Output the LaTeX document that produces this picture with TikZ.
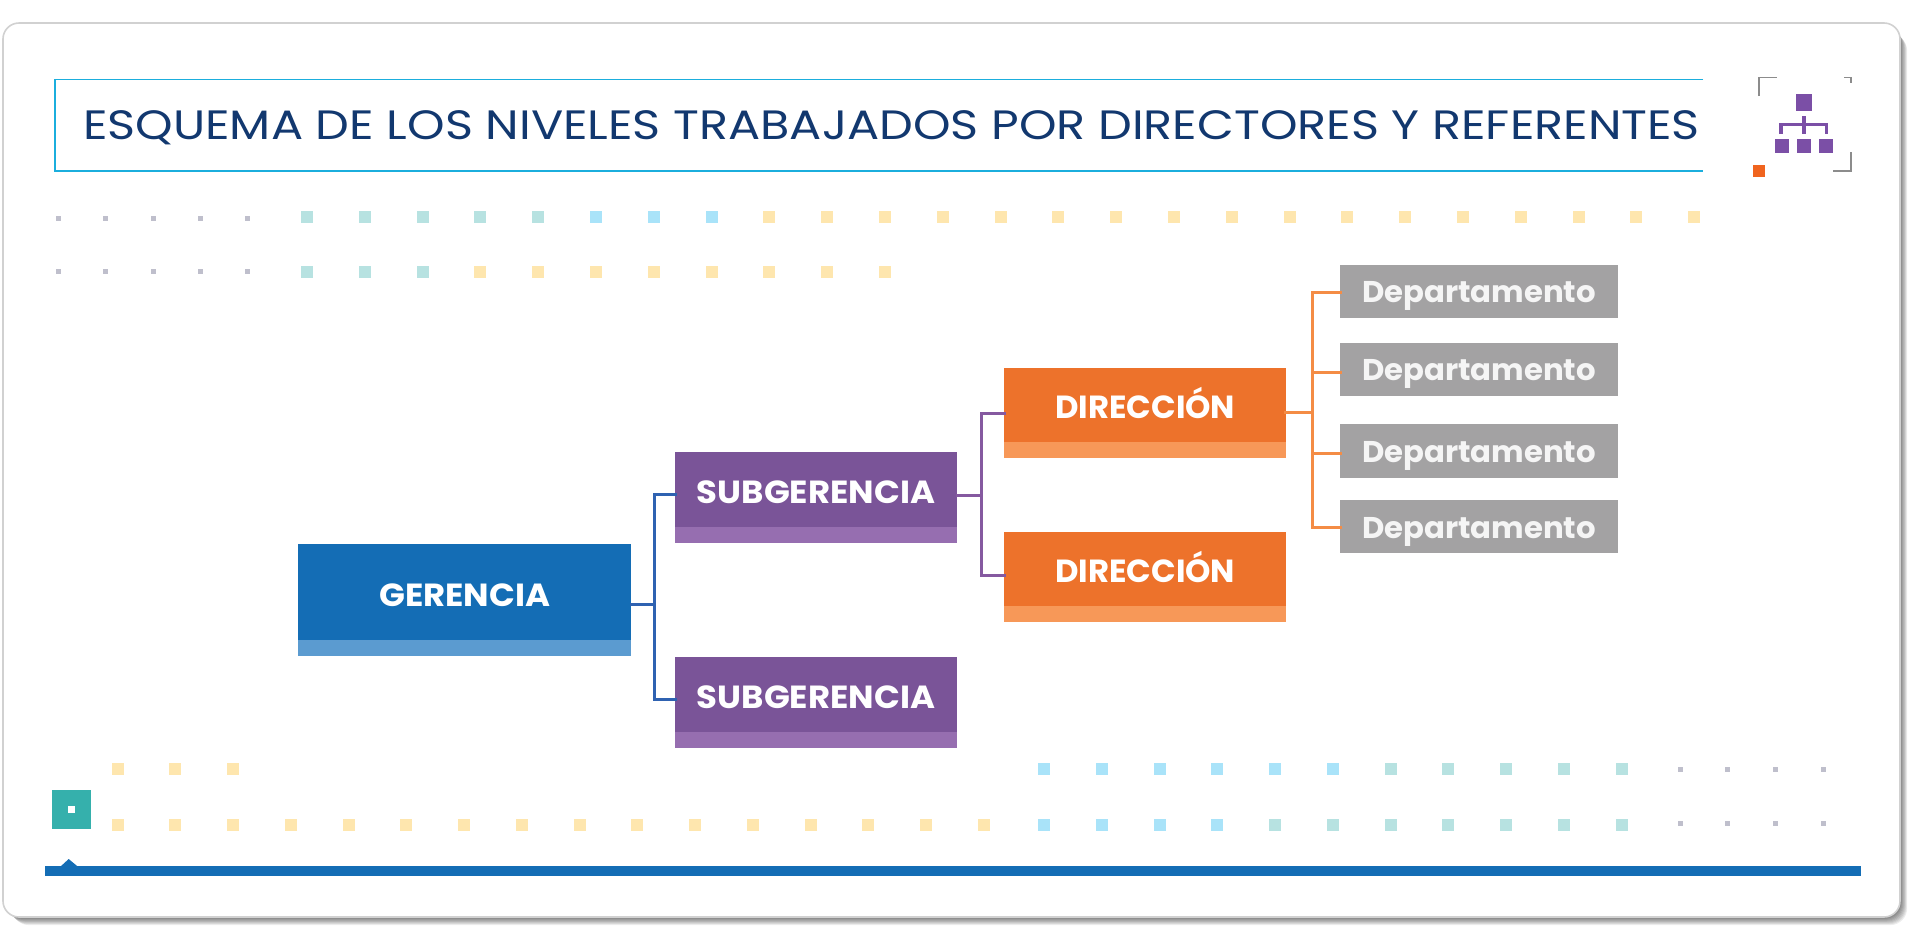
\documentclass[tikz,border=0pt]{standalone}
\usepackage{fontspec}
\usetikzlibrary{positioning}
\newfontfamily\titlefont[FakeStretch=1.164]{Poppins}
\newfontfamily\capfont[FakeStretch=1.06]{Poppins Bold}
\newfontfamily\dirfont[FakeStretch=1.01]{Poppins Bold}
\newfontfamily\depfont[FakeStretch=1.025]{Poppins Bold}
\definecolor{titlecol}{HTML}{12386F}
\definecolor{framecol}{HTML}{1BAEDD}
\definecolor{gerdark}{HTML}{146DB5}
\definecolor{gerlight}{HTML}{5B9BD0}
\definecolor{gerwire}{HTML}{2F62B1}
\definecolor{subdark}{HTML}{7A5498}
\definecolor{sublight}{HTML}{966EB0}
\definecolor{subwire}{HTML}{8559A0}
\definecolor{dirdark}{HTML}{ED722B}
\definecolor{dirlight}{HTML}{F79858}
\definecolor{dirwire}{HTML}{F48C45}
\definecolor{dirhot}{HTML}{F0641E}
\definecolor{depcol}{HTML}{A3A2A3}
\definecolor{iconcol}{HTML}{7B4FA6}
\definecolor{markercol}{HTML}{35B0AC}
\definecolor{greydot}{HTML}{BFBFCC}
\definecolor{tealdot}{HTML}{B7E2E1}
\definecolor{bluedot}{HTML}{A9E3F9}
\definecolor{yellowdot}{HTML}{FEE6AE}
\pgfdeclarelayer{cardlayer}
\pgfdeclarelayer{nodelayer}
\pgfdeclarelayer{edgelayer}
\pgfsetlayers{cardlayer,nodelayer,edgelayer,main}
\tikzset{
    none/.style = {inner sep=0pt},
    dot/.style = {rectangle, fill=#1, inner sep=0pt, minimum size=12pt},
    tiny/.style = {rectangle, fill=greydot, inner sep=0pt, minimum size=5pt},
    flat/.style = {rectangle, fill=#1, inner sep=0pt, outer sep=0pt},
    level/.style = {flat=#1, text=white, text depth=0pt},
    ger/.style = {level=gerdark, font=\capfont\fontsize{32}{32}\selectfont, minimum width=332.6pt, minimum height=96.3pt, text height=30pt},
    gerstrip/.style = {flat=gerlight, minimum width=332.6pt, minimum height=16.5pt},
    sub/.style = {level=subdark, font=\capfont\fontsize{32}{32}\selectfont, minimum width=282pt, minimum height=75pt, text height=28pt},
    substrip/.style = {flat=sublight, minimum width=282pt, minimum height=16pt},
    dir/.style = {level=dirdark, font=\dirfont\fontsize{32}{32}\selectfont, minimum width=281.5pt, minimum height=74.3pt, text height=27.6pt},
    dirstrip/.style = {flat=dirlight, minimum width=281.5pt, minimum height=16pt},
    dep/.style = {level=depcol, text=white!96!black, font=\depfont\fontsize{30}{30}\selectfont, minimum width=278pt, minimum height=53pt, text height=22.6pt},
    wire/.style = {line width=3pt, line cap=rect},
    corner/.style = {draw=gray!90, line width=1.6pt},
    icon/.style = {flat=iconcol}
}
\begin{document}
\begin{tikzpicture}[x=1pt, y=-1pt]
    \useasboundingbox (0, 0) rectangle (1915, 946);
    \begin{pgfonlayer}{cardlayer}
        % soft shadow under the card
        \foreach \s in {1,...,9} {
            \fill [black, opacity=0.07, rounded corners=17pt] (3+\s, 25+\s) rectangle (1900+0.8*\s, 917+0.9*\s);
        }
        \fill [white, draw=black!18, line width=1.6pt, rounded corners=16pt] (3, 23) rectangle (1900, 917);
    \end{pgfonlayer}
    \begin{pgfonlayer}{nodelayer}
        \node [ger] (gerencia) at (464.7, 591.8) {GERENCIA};
        \node [gerstrip, below=0pt of gerencia] (gerstrip) {};
        \node [sub] (sub1) at (816, 489.5) {SUBGERENCIA};
        \node [substrip, below=0pt of sub1] (sub1strip) {};
        \node [sub] (sub2) at (816, 694) {SUBGERENCIA};
        \node [substrip, below=0pt of sub2] (sub2strip) {};
        \node [dir] (dir1) at (1145.2, 404.9) {DIRECCIÓN};
        \node [dirstrip, below=0pt of dir1] (dir1strip) {};
        \node [dir] (dir2) at (1145.2, 568.9) {DIRECCIÓN};
        \node [dirstrip, below=0pt of dir2] (dir2strip) {};
        \node [dep] (dep1) at (1479, 291) {Departamento};
        \node [dep] (dep2) at (1479, 369) {Departamento};
        \node [dep, minimum height=54pt] (dep3) at (1479, 451) {Departamento};
        \node [dep] (dep4) at (1479, 526.7) {Departamento};
        % wire corners
        \node [style=none] (gj) at (654.6, 604) {};
        \node [style=none] (gt) at (654.6, 494) {};
        \node [style=none] (gb) at (654.6, 699) {};
        \node [style=none] (sj) at (981, 495) {};
        \node [style=none] (st) at (981, 413) {};
        \node [style=none] (sb) at (981, 575) {};
        \node [style=none] (dj) at (1312, 412.7) {};
        \node [style=none] (d1) at (1312, 292) {};
        \node [style=none] (d2) at (1312, 372) {};
        \node [style=none] (d3) at (1312, 453) {};
        \node [style=none] (d4) at (1312, 527) {};
        % title frame
        \node [style=none] (ftr) at (1703, 79.5) {};
        \node [style=none] (ftl) at (55, 79.5) {};
        \node [style=none] (fbl) at (55, 171) {};
        \node [style=none] (fbr) at (1703, 171) {};
        \node [anchor=west, inner sep=0pt, text=titlecol, font=\titlefont\fontsize{41}{41}\selectfont, text height=29pt, text depth=0pt] (title) at (83, 124.5) {ESQUEMA DE LOS NIVELES TRABAJADOS POR DIRECTORES Y REFERENTES};
        % rows of squares
        \foreach \i in {0,...,4} {
            \node [tiny] (ga\i) at (58.3+47.4*\i, 218.7) {};
            \node [tiny] (gb\i) at (58.3+47.4*\i, 271.7) {};
            \node [dot=tealdot] (ta\i) at (307+57.8*\i, 216.7) {};
        }
        \foreach \i in {5,6,7} {
            \node [dot=bluedot] (ta\i) at (307+57.8*\i, 216.7) {};
        }
        \foreach \i in {8,...,24} {
            \node [dot=yellowdot] (ta\i) at (307+57.8*\i, 216.7) {};
        }
        \foreach \i in {0,1,2} {
            \node [dot=tealdot] (tb\i) at (307+57.8*\i, 271.7) {};
            \node [dot=yellowdot] (ya\i) at (117.7+57.75*\i, 769) {};
        }
        \foreach \i in {3,...,10} {
            \node [dot=yellowdot] (tb\i) at (307+57.8*\i, 271.7) {};
        }
        \foreach \i in {0,...,15} {
            \node [dot=yellowdot] (yb\i) at (117.7+57.75*\i, 825.3) {};
        }
        \foreach \i in {16,...,21} {
            \node [dot=bluedot] (ya\i) at (120.2+57.75*\i, 769) {};
        }
        \foreach \i in {22,...,26} {
            \node [dot=tealdot] (ya\i) at (120.2+57.75*\i, 769) {};
        }
        \foreach \i in {16,...,19} {
            \node [dot=bluedot] (yb\i) at (120.2+57.75*\i, 825.3) {};
        }
        \foreach \i in {20,...,26} {
            \node [dot=tealdot] (yb\i) at (120.2+57.75*\i, 825.3) {};
        }
        \foreach \i in {0,...,3} {
            \node [tiny] (ra\i) at (1680+47.7*\i, 769) {};
            \node [tiny] (rb\i) at (1680+47.7*\i, 823) {};
        }
        % bottom marker and bar
        \node [flat=markercol, minimum size=39.3pt] (marker) at (71.2, 809.6) {};
        \node [flat=white, minimum size=7.3pt] (markerdot) at (marker.center) {};
        \node [flat=gerdark, minimum width=1816.6pt, minimum height=10pt] (bar) at (953, 871.3) {};
        \fill [gerdark] (60, 867) -- (68.7, 859) -- (78.3, 867) -- cycle;
        % icon
        \node [flat=dirhot, minimum size=12.5pt] (hot) at (1759, 170.8) {};
        \node [icon, minimum size=16.4pt] (top) at (1803.9, 102.5) {};
        \node [icon, minimum size=14pt] (lo1) at (1781.7, 145.7) {};
        \node [icon, minimum size=14pt] (lo2) at (1803.7, 145.7) {};
        \node [icon, minimum size=14pt] (lo3) at (1826, 145.7) {};
        \fill [iconcol] (1779.3, 122.7) rectangle (1828.3, 126);
        \fill [iconcol] (1801.7, 115.7) rectangle (1806, 134);
        \fill [iconcol] (1779.3, 122.7) rectangle (1783.3, 134);
        \fill [iconcol] (1824.7, 122.7) rectangle (1828.3, 134);
        \draw [corner] (1758.7, 96) -- (1758.7, 77.3) -- (1776.7, 77.3);
        \draw [corner] (1844, 77.3) -- (1850.7, 77.3) -- (1850.7, 82.7);
        \draw [corner] (1850.7, 152) -- (1850.7, 171) -- (1832.7, 171);
    \end{pgfonlayer}
    \begin{pgfonlayer}{edgelayer}
        \draw [draw=framecol, line width=1.8pt] (ftr.center) to (ftl.center) to (fbl.center) to (fbr.center);
        \draw [wire, draw=gerwire] (gerencia.east |- gj.center) to (gj.center);
        \draw [wire, draw=gerwire] (sub1.west |- gt.center) to (gt.center) to (gb.center) to (sub2.west |- gb.center);
        \draw [wire, draw=subwire] (sub1.east |- sj.center) to (sj.center);
        \draw [wire, draw=subwire] (dir1.west |- st.center) to (st.center) to (sb.center) to (dir2.west |- sb.center);
        \draw [wire, draw=dirwire] (dir1.east |- dj.center) to (dj.center);
        \draw [wire, draw=dirwire] (dep1.west |- d1.center) to (d1.center) to (d4.center) to (dep4.west |- d4.center);
        \draw [wire, draw=dirwire] (d2.center) to (dep2.west |- d2.center);
        \draw [wire, draw=dirwire] (d3.center) to (dep3.west |- d3.center);
    \end{pgfonlayer}
\end{tikzpicture}
\end{document}
